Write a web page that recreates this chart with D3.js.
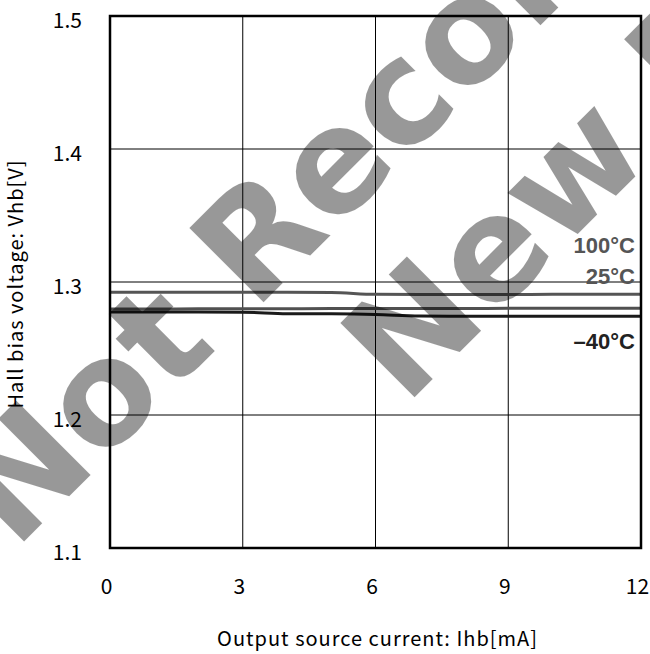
<!doctype html>
<html lang="en">
<head>
<meta charset="utf-8">
<title>Hall bias voltage vs output source current</title>
<script src="https://d3js.org/d3.v7.min.js"></script>
<style>
    body { margin: 0; background: #fff; }
    text { font-family: "Noto Sans CJK JP", "Noto Sans", sans-serif; fill: #000; }
    .tick line, .domain { display: none; }
    .temp { font-family: "Liberation Sans", Arial, sans-serif; font-weight: bold; font-size: 22px; }
    .mark { font-family: "DejaVu Sans", sans-serif; font-weight: bold; font-size: 144px; fill: #000; opacity: 0.4; }
</style>
</head>
<body>
<div id="chart"></div>
<script>
    const current = [0, 1, 2, 3, 4, 5, 6, 7, 8, 9, 10, 12];
    const v100 = [1.2922, 1.2922, 1.2922, 1.2922, 1.2922, 1.2921, 1.2907, 1.2906, 1.2906, 1.2906, 1.2907, 1.2907];
    const v25  = [1.2797, 1.2797, 1.2798, 1.2798, 1.2799, 1.2800, 1.2800, 1.2801, 1.2801, 1.2802, 1.2802, 1.2802];
    const vm40 = [1.2774, 1.2774, 1.2774, 1.2773, 1.2762, 1.2761, 1.2756, 1.2744, 1.2743, 1.2742, 1.2742, 1.2742];
    const seriesNames = ["100°C", "25°C", "–40°C"];
    const xTicks = [0, 3, 6, 9, 12];
    const yTicks = [1.1, 1.2, 1.3, 1.4, 1.5];

    const W = 650, H = 654;
    const margin = {left: 110, right: 9, top: 16, bottom: 106};

    const svg = d3.select("#chart").append("svg")
        .attr("width", W)
        .attr("height", H);

    const x = d3.scaleLinear().domain([0, 12]).range([margin.left, W - margin.right]);
    const y = d3.scaleLinear().domain([1.1, 1.5]).range([H - margin.bottom, margin.top]);

    // grid
    svg.append("g").selectAll("line")
        .data(xTicks.slice(1, -1))
        .enter().append("line")
        .attr("x1", d => x(d)).attr("x2", d => x(d))
        .attr("y1", y(1.1)).attr("y2", y(1.5))
        .attr("stroke", "#000").attr("stroke-width", 1);

    svg.append("g").selectAll("line")
        .data(yTicks.slice(1, -1))
        .enter().append("line")
        .attr("x1", x(0)).attr("x2", x(12))
        .attr("y1", d => y(d)).attr("y2", d => y(d))
        .attr("stroke", "#000").attr("stroke-width", 1);

    // curves
    const series = [
        {name: seriesNames[0], values: v100, color: "#555", labelColor: "#555"},
        {name: seriesNames[1], values: v25, color: "#505050", labelColor: "#555"},
        {name: seriesNames[2], values: vm40, color: "#1a1a1a", labelColor: "#222"}
    ];

    const line = d3.line()
        .x((d, i) => x(current[i]))
        .y(d => y(d))
        .curve(d3.curveMonotoneX);

    svg.append("g").selectAll("path")
        .data(series)
        .enter().append("path")
        .attr("d", s => line(s.values))
        .attr("fill", "none")
        .attr("stroke", s => s.color)
        .attr("stroke-width", 3);

    // frame
    svg.append("rect")
        .attr("x", x(0)).attr("y", y(1.5))
        .attr("width", x(12) - x(0))
        .attr("height", y(1.1) - y(1.5))
        .attr("fill", "none")
        .attr("stroke", "#000")
        .attr("stroke-width", 2.5);

    // axes (labels only)
    svg.append("g")
        .attr("transform", `translate(0,${y(1.1)})`)
        .call(d3.axisBottom(x).tickValues(xTicks).tickFormat(d3.format("d")).tickSize(0).tickPadding(0))
        .call(g => g.selectAll("text")
            .attr("font-size", 21)
            .attr("dx", -4)
            .attr("y", 46)
            .attr("dy", 0)
            .style("font-family", "'Noto Sans CJK JP', sans-serif"));

    svg.append("g")
        .attr("transform", `translate(${x(0)},0)`)
        .call(d3.axisLeft(y).tickValues(yTicks).tickFormat(d3.format(".1f")).tickSize(0).tickPadding(0))
        .call(g => g.selectAll("text")
            .attr("font-size", 21)
            .attr("x", -28)
            .attr("dy", 11)
            .style("font-family", "'Noto Sans CJK JP', sans-serif"));

    // temperature labels
    const labelBase = [253, 284, 349];
    svg.append("g").selectAll("text")
        .data(series)
        .enter().append("text")
        .attr("class", "temp")
        .attr("x", 635)
        .attr("y", (s, i) => labelBase[i])
        .attr("text-anchor", "end")
        .style("fill", s => s.labelColor)
        .text(s => s.name);

    // axis titles
    svg.append("text")
        .attr("x", (x(0) + x(12)) / 2 + 2)
        .attr("y", 646)
        .attr("text-anchor", "middle")
        .attr("font-size", 20)
        .attr("letter-spacing", 1)
        .text("Output source current: Ihb[mA]");

    svg.append("text")
        .attr("transform", `translate(23,284) rotate(-90)`)
        .attr("text-anchor", "middle")
        .attr("font-size", 20)
        .attr("letter-spacing", 1)
        .text("Hall bias voltage: Vhb[V]");

    // watermark
    const mark = svg.append("g").attr("transform", "rotate(-45)");
    mark.append("text").attr("class", "mark")
        .attr("x", -379).attr("y", 400)
        .text("Not Recommended for");
    mark.append("text").attr("class", "mark")
        .attr("x", -1).attr("y", 574)
        .text("New Designs");
</script>
</body>
</html>
